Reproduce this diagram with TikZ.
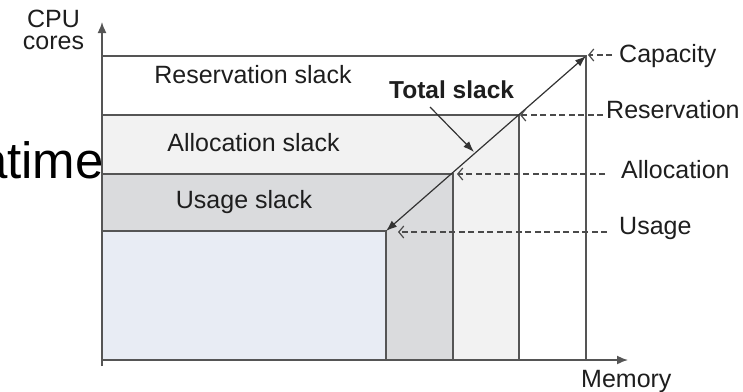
\documentclass[tikz,border=0pt]{standalone}
\usepackage{fontspec}
\setmainfont{Liberation Sans}
\usetikzlibrary{arrows.meta}
\definecolor{usefill}{HTML}{E8ECF4}
\definecolor{useslack}{HTML}{DADBDD}
\definecolor{allocslack}{HTML}{F2F2F2}
\definecolor{edge}{HTML}{555555}
\definecolor{dashc}{HTML}{4A4A4A}
\definecolor{txt}{HTML}{1E1E1E}
\begin{document}
\begin{tikzpicture}[x=1pt,y=-1pt,
  lbl/.style={inner sep=0pt,font=\fontsize{25}{29}\selectfont,text=txt},
  edgeline/.style={draw=edge,line width=1.4pt},
  axisline/.style={draw=edge,line width=1.6pt,-{Latex[length=11pt,width=9pt]}},
  dasharrow/.style={draw=dashc,line width=1.2pt,dash pattern=on 6pt off 3.5pt,-{Straight Barb[length=5pt,width=12pt,line width=1.2pt]}},
  solidarrow/.style={draw=black!80,line width=1.2pt,-{Latex[length=11pt,width=8pt]}},
  botharrow/.style={draw=black!80,line width=1.2pt,{Latex[length=11pt,width=8pt]}-{Latex[length=11pt,width=8pt]}}]
\useasboundingbox (0,0) rectangle (743,391);

% cut-off background text
\node[anchor=base east,inner sep=0pt,font=\fontsize{51}{56}\selectfont] (bg) at (104,178) {atime};

% corners
\coordinate (O) at (102,360);
\coordinate (cap) at (586,56);
\coordinate (res) at (519,115);
\coordinate (alloc) at (453,174);
\coordinate (use) at (386,231);

% fills
\fill[white] (O) rectangle (cap);
\fill[allocslack] (O) rectangle (res);
\fill[useslack] (O) rectangle (alloc);
\fill[usefill] (O) rectangle (use);

% box edges
\draw[edgeline] (O |- cap) -- (cap) -- (cap |- O);
\draw[edgeline] (O |- res) -- (res) -- (res |- O);
\draw[edgeline] (O |- alloc) -- (alloc) -- (alloc |- O);
\draw[edgeline] (O |- use) -- (use) -- (use |- O);

% axes
\coordinate (ybot) at (102,366);
\coordinate (ytop) at (102,22);
\coordinate (xend) at (628,360);
\draw[axisline] (ybot) -- (ytop);
\draw[axisline] (O) -- (xend);

% region labels
\node[lbl,anchor=base] (resslack) at (253,83) {Reservation slack};
\node[lbl,anchor=base] (allocslackl) at (253.5,151) {Allocation slack};
\node[lbl,anchor=base] (useslackl) at (244,208) {Usage slack};

% axis labels
\node[lbl,anchor=north,align=center,font=\fontsize{25}{22}\selectfont] (cpu) at (53.5,10) {CPU\\cores};
\node[lbl,anchor=base west] (mem) at (581,387) {Memory};

% total slack diagonal
\draw[botharrow] (use) -- (cap);
\node[lbl,anchor=base west,font=\fontsize{24.5}{28}\selectfont\bfseries] (total) at (389,98) {Total slack};
\coordinate (tsA) at (430,107);
\coordinate (tsB) at (474,152);
\draw[solidarrow] (tsA) -- (tsB);

% right labels and dashed arrows
\node[lbl,anchor=base west] (capL) at (619,62) {Capacity};
\node[lbl,anchor=base west] (resL) at (606,118) {Reservation};
\node[lbl,anchor=base west] (allocL) at (621,178) {Allocation};
\node[lbl,anchor=base west] (useL) at (619,234) {Usage};

\coordinate (capS) at (612,55);
\coordinate (capE) at (588,55);
\coordinate (resS) at (603,115);
\coordinate (resE) at (520,115);
\coordinate (allocS) at (605,174);
\coordinate (allocE) at (457,174);
\coordinate (useS) at (607,232);
\coordinate (useE) at (398,232);
\draw[dasharrow] (capS) -- (capE);
\draw[dasharrow] (resS) -- (resE);
\draw[dasharrow] (allocS) -- (allocE);
\draw[dasharrow] (useS) -- (useE);
\end{tikzpicture}
\end{document}
